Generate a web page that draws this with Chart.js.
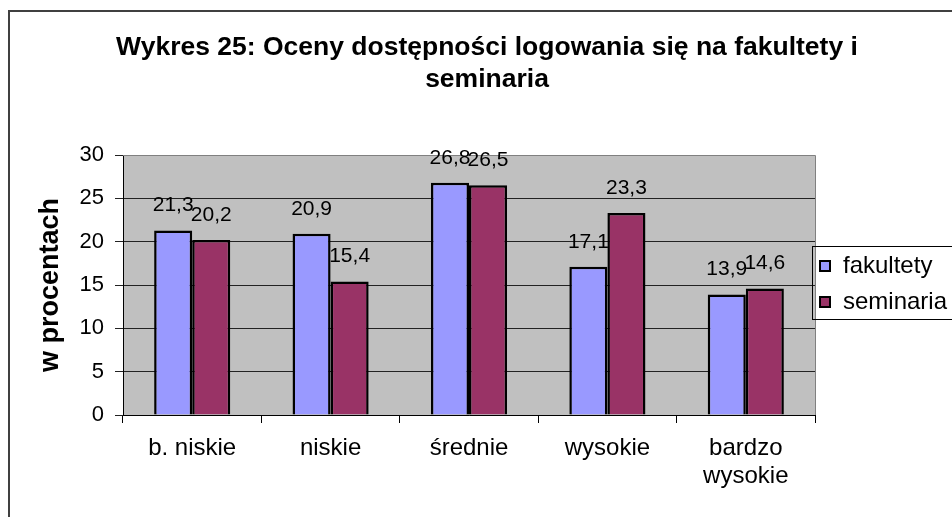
<!DOCTYPE html>
<html>
<head>
<meta charset="utf-8">
<script src="https://cdn.jsdelivr.net/npm/chart.js@4/dist/chart.umd.min.js"></script>
<style>
    html, body { margin: 0; padding: 0; background: #fff; }
    #wrap { width: 952px; height: 517px; }
</style>
</head>
<body>
<div id="wrap"><canvas id="myChart" width="952" height="517"></canvas></div>
<script>
const categories = ['b. niskie', 'niskie', 'średnie', 'wysokie', ['bardzo', 'wysokie']];
const fakultety = [21.3, 20.9, 26.8, 17.1, 13.9];
const seminaria = [20.2, 15.4, 26.5, 23.3, 14.6];
const seriesNames = ['fakultety', 'seminaria'];
const yTicks = [0, 5, 10, 15, 20, 25, 30];
const titleLines = ['Wykres 25: Oceny dostępności logowania się na fakultety i', 'seminaria'];

const FONT = 'Arial, "Liberation Sans", sans-serif';

// gray plot area, outer frame, title, value labels and the boxed legend
const excelLook = {
    id: 'excelLook',
    beforeDraw(chart) {
        const { ctx, chartArea } = chart;
        ctx.save();
        ctx.fillStyle = '#fff';
        ctx.fillRect(0, 0, chart.width, chart.height);
        ctx.strokeStyle = '#404040';
        ctx.lineWidth = 2;
        ctx.strokeRect(9, 11, chart.width + 20, chart.height + 20);
        ctx.fillStyle = '#c0c0c0';
        ctx.fillRect(chartArea.left, chartArea.top, chartArea.right - chartArea.left, chartArea.bottom - chartArea.top);

        ctx.fillStyle = '#000';
        ctx.font = 'bold 26.5px ' + FONT;
        ctx.textAlign = 'center';
        ctx.textBaseline = 'alphabetic';
        ctx.fillText(titleLines[0], 487, 55);
        ctx.fillText(titleLines[1], 487, 87);
        ctx.restore();
    },
    afterDraw(chart) {
        const { ctx, chartArea } = chart;
        ctx.save();
        ctx.strokeStyle = '#808080';
        ctx.lineWidth = 1;
        ctx.beginPath();
        ctx.moveTo(chartArea.left, chartArea.top + 0.5);
        ctx.lineTo(chartArea.right + 0.5, chartArea.top + 0.5);
        ctx.lineTo(chartArea.right + 0.5, chartArea.bottom);
        ctx.stroke();

        // value labels
        ctx.fillStyle = '#000';
        ctx.font = '21px ' + FONT;
        ctx.textAlign = 'center';
        ctx.textBaseline = 'middle';
        chart.data.datasets.forEach((ds, i) => {
            chart.getDatasetMeta(i).data.forEach((bar, j) => {
                const txt = ds.data[j].toFixed(1).replace('.', ',');
                ctx.fillText(txt, bar.x, bar.y - 25);
            });
        });

        // legend
        const lx = 812, ly = 246, lw = 150, lh = 73;
        ctx.strokeStyle = '#000';
        ctx.lineWidth = 1;
        ctx.strokeRect(lx + 0.5, ly + 0.5, lw, lh);
        ctx.font = '24px ' + FONT;
        ctx.textAlign = 'left';
        chart.data.datasets.forEach((ds, i) => {
            const cy = ly + 20 + i * 36;
            ctx.fillStyle = ds.backgroundColor;
            ctx.fillRect(lx + 8, cy - 5, 10, 10);
            ctx.lineWidth = 2;
            ctx.strokeStyle = '#000';
            ctx.strokeRect(lx + 8, cy - 5, 10, 10);
            ctx.fillStyle = '#000';
            ctx.fillText(ds.label, lx + 31, cy);
        });
        ctx.restore();
    }
};

new Chart(document.getElementById('myChart').getContext('2d'), {
    type: 'bar',
    data: {
        labels: categories,
        datasets: [{
            label: seriesNames[0],
            data: fakultety,
            backgroundColor: '#9999ff',
            borderColor: '#000',
            borderWidth: 2.5
        }, {
            label: seriesNames[1],
            data: seminaria,
            backgroundColor: '#993366',
            borderColor: '#000',
            borderWidth: 2.5
        }]
    },
    options: {
        responsive: false,
        animation: false,
        categoryPercentage: 0.55,
        barPercentage: 1,
        layout: { padding: { left: 0, top: 155, right: 137, bottom: 0 } },
        scales: {
            x: {
                afterFit: (scale) => { scale.height = 102; },
                grid: { drawOnChartArea: false, color: '#000', tickLength: 8, offset: true },
                border: { color: '#000' },
                ticks: { color: '#000', font: { family: FONT, size: 24, lineHeight: 1.15 }, padding: 12, maxRotation: 0 }
            },
            y: {
                min: 0,
                max: 30,
                afterFit: (scale) => { scale.width = 123; },
                afterBuildTicks: (scale) => { scale.ticks = yTicks.map(v => ({ value: v })); },
                grid: { color: '#222', tickLength: 8 },
                border: { color: '#000' },
                ticks: { color: '#000', font: { family: FONT, size: 22 }, padding: 11 },
                title: {
                    display: true,
                    text: 'w procentach',
                    color: '#000',
                    font: { family: FONT, size: 27, weight: 'bold', lineHeight: 1.2 },
                    padding: { top: 34 }
                }
            }
        },
        plugins: {
            legend: { display: false },
            tooltip: { enabled: false },
            title: { display: false }
        }
    },
    plugins: [excelLook]
});
</script>
</body>
</html>
